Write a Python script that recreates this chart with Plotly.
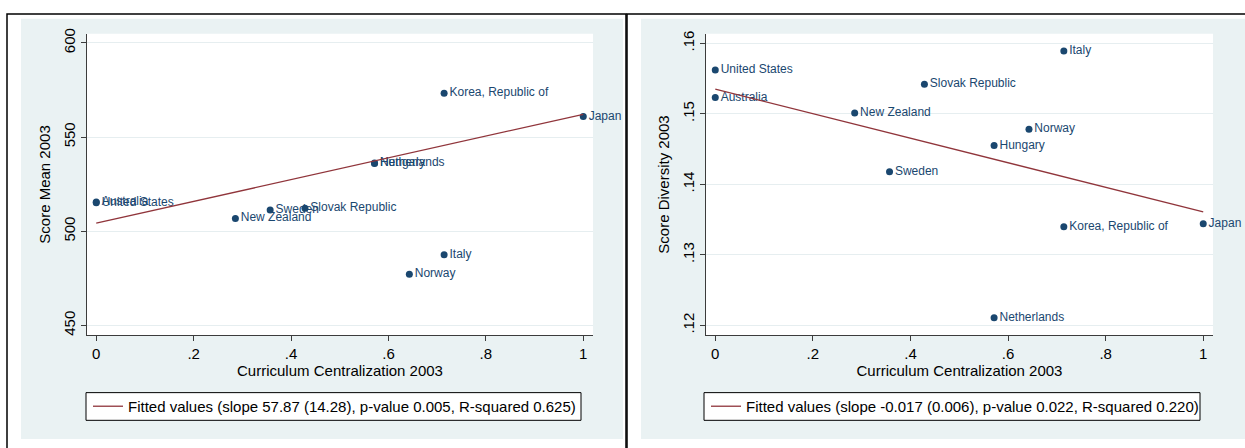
import plotly.graph_objects as go

# ---------------- data ----------------
countries_l = ["Australia", "United States", "New Zealand", "Sweden", "Slovak Republic",
               "Hungary", "Netherlands", "Korea, Republic of", "Japan", "Italy", "Norway"]
central_l = [0.0, 0.0, 0.2857, 0.3571, 0.4286, 0.5714, 0.5714, 0.7143, 1.0, 0.7143, 0.6429]
score_mean = [515.5, 515.2, 506.8, 511.3, 512.2, 536.0, 536.2, 573.3, 560.9, 487.5, 477.2]
fit_l_x = [0.0, 1.0]
fit_l_y = [504.3, 562.1]

countries_r = ["United States", "Australia", "New Zealand", "Sweden", "Slovak Republic",
               "Italy", "Norway", "Hungary", "Korea, Republic of", "Japan", "Netherlands"]
central_r = [0.0, 0.0, 0.2857, 0.3571, 0.4286, 0.7143, 0.6429, 0.5714, 0.7143, 1.0, 0.5714]
score_div = [0.1562, 0.1523, 0.1501, 0.1418, 0.1542, 0.1589, 0.1478, 0.1455, 0.1340, 0.1344, 0.1211]
fit_r_x = [0.0, 1.0]
fit_r_y = [0.1535, 0.1361]

x_ticks = [0, 0.2, 0.4, 0.6, 0.8, 1.0]
x_ticktext = ["0", ".2", ".4", ".6", ".8", "1"]
yl_ticks = [450, 500, 550, 600]
yl_ticktext = ["450", "500", "550", "600"]
yr_ticks = [0.12, 0.13, 0.14, 0.15, 0.16]
yr_ticktext = [".12", ".13", ".14", ".15", ".16"]

legend_l_text = "Fitted values (slope 57.87 (14.28), p-value 0.005, R-squared 0.625)"
legend_r_text = "Fitted values (slope -0.017 (0.006), p-value 0.022, R-squared 0.220)"

# ---------------- style ----------------
W, H = 1245, 448
NAVY = "#1a476f"
MAROON = "#90353b"
BG = "#eaf2f3"
GRID = "#e6eef0"
AXC = "#3c3c3c"
FONT = "Liberation Sans, Arial, sans-serif"

def px_x(p):
    return p / W

def px_y(p):
    return 1 - p / H

fig = go.Figure()

# left panel
fig.add_trace(go.Scatter(x=central_l, y=score_mean, mode="markers+text", text=countries_l,
                         textposition="middle right", textfont=dict(color=NAVY, size=12, family=FONT),
                         marker=dict(color=NAVY, size=7), showlegend=False, xaxis="x", yaxis="y",
                         cliponaxis=False))
fig.add_trace(go.Scatter(x=fit_l_x, y=fit_l_y, mode="lines", line=dict(color=MAROON, width=1.3),
                         name=legend_l_text, xaxis="x", yaxis="y", legend="legend"))
# right panel
fig.add_trace(go.Scatter(x=central_r, y=score_div, mode="markers+text", text=countries_r,
                         textposition="middle right", textfont=dict(color=NAVY, size=12, family=FONT),
                         marker=dict(color=NAVY, size=7), showlegend=False, xaxis="x2", yaxis="y2",
                         cliponaxis=False))
fig.add_trace(go.Scatter(x=fit_r_x, y=fit_r_y, mode="lines", line=dict(color=MAROON, width=1.3),
                         name=legend_r_text, xaxis="x2", yaxis="y2", legend="legend2"))

def xaxis(domain, anchor):
    return dict(domain=domain, anchor=anchor, range=[-0.019, 1.02], tickvals=x_ticks, ticktext=x_ticktext,
                showgrid=False, zeroline=False, showline=True, linecolor=AXC, linewidth=1.2,
                ticks="outside", ticklen=5, tickcolor=AXC, tickfont=dict(size=15, family=FONT, color="#000"),
                title=dict(text="Curriculum Centralization 2003", font=dict(size=15, family=FONT, color="#000"),
                           standoff=4))

def yaxis(domain, anchor, rng, tv, tt, title):
    return dict(domain=domain, anchor=anchor, range=rng, tickvals=tv, ticktext=tt, tickangle=-90,
                showgrid=True, gridcolor=GRID, gridwidth=1, zeroline=False, showline=True,
                linecolor=AXC, linewidth=1.2, ticks="outside", ticklen=5, tickcolor=AXC,
                tickfont=dict(size=15, family=FONT, color="#000"),
                title=dict(text=title, font=dict(size=15, family=FONT, color="#000"), standoff=6))

ydom = [px_y(334), px_y(29)]
fig.update_layout(
    width=W, height=H, margin=dict(l=0, r=0, t=0, b=0),
    paper_bgcolor="white", plot_bgcolor="white",
    font=dict(family=FONT, color="#000"),
    xaxis=xaxis([px_x(87), px_x(593)], "y"),
    yaxis=yaxis(ydom, "x", [444.8, 604.9], yl_ticks, yl_ticktext, "Score Mean 2003"),
    xaxis2=xaxis([px_x(706), px_x(1213)], "y2"),
    yaxis2=yaxis(ydom, "x2", [0.1186, 0.16136], yr_ticks, yr_ticktext, "Score Diversity 2003"),
    legend=dict(x=px_x(88), y=px_y(406), xanchor="left", yanchor="middle", bgcolor="rgba(0,0,0,0)",
                borderwidth=0, font=dict(size=15, family=FONT, color="#000")),
    legend2=dict(x=px_x(706), y=px_y(406), xanchor="left", yanchor="middle", bgcolor="rgba(0,0,0,0)",
                 borderwidth=0, font=dict(size=15, family=FONT, color="#000")),
)

shapes = []
def rect(x0, y0, x1, y1, fill=None, line=None, lw=0):
    shapes.append(dict(type="rect", xref="paper", yref="paper", layer="below",
                       x0=px_x(x0), x1=px_x(x1), y0=px_y(y1), y1=px_y(y0),
                       fillcolor=fill if fill else "rgba(0,0,0,0)",
                       line=dict(color=line if line else "rgba(0,0,0,0)", width=lw)))

# panel frames and backgrounds
rect(21, 14, 623, 439, fill=BG)
rect(641, 14, 1250, 439, fill=BG)
rect(87, 29, 593, 334, fill="white")
rect(706, 29, 1213, 334, fill="white")
# legend boxes
rect(86, 392, 581, 420, fill="white", line="#000", lw=1)
rect(704, 392, 1200, 420, fill="white", line="#000", lw=1)
# outer black frames
rect(7, 9, 626, 460, line="#000", lw=1.5)
rect(627, 9, 1260, 460, line="#000", lw=1.5)
fig.update_layout(shapes=shapes)

fig.write_html("out.html", config={"displayModeBar": False},
               post_script="document.body.style.margin='0';document.body.style.overflow='hidden';")
